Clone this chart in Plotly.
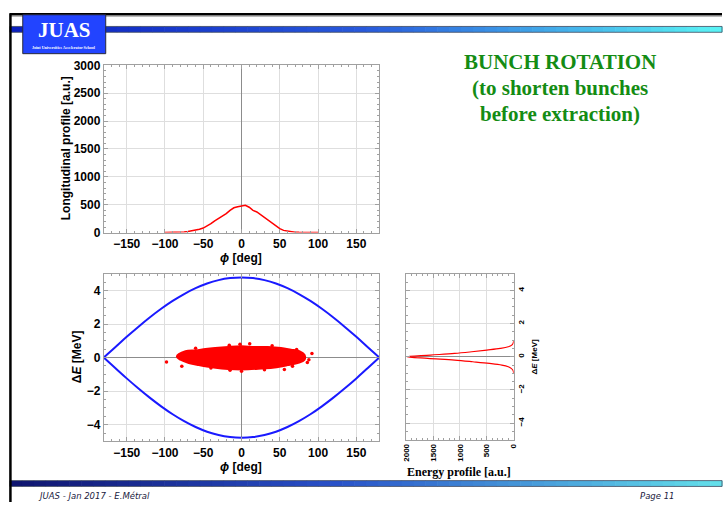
import plotly.graph_objects as go

W, H = 727, 509


def px(x):
    return x / W


def py(y):
    return 1 - y / H


# ---------------- data ----------------
long_phi = list(range(-100, 101, 5))
long_profile = [0, 1, 2, 3, 6, 12, 20, 30, 45, 62, 82, 115, 160, 210, 250, 285,
                340, 400, 445, 465, 480, 490, 455, 400, 370, 320, 270, 220, 160,
                110, 70, 40, 25, 14, 8, 5, 3, 2, 1, 0, 0]

sep_phi = [-180, -165, -150, -135, -120, -105, -90, -75, -60, -45, -30, -15, 0,
           15, 30, 45, 60, 75, 90, 105, 120, 135, 150, 165, 180]
sep_upper = [0.0, 0.62, 1.24, 1.83, 2.39, 2.91, 3.38, 3.79, 4.14, 4.42, 4.62, 4.74,
             4.78, 4.74, 4.62, 4.42, 4.14, 3.79, 3.38, 2.91, 2.39, 1.83, 1.24, 0.62, 0.0]
sep_lower = [0.0, -0.62, -1.24, -1.83, -2.39, -2.91, -3.38, -3.79, -4.14, -4.42, -4.62,
             -4.74, -4.78, -4.74, -4.62, -4.42, -4.14, -3.79, -3.38, -2.91, -2.39,
             -1.83, -1.24, -0.62, 0.0]

# outline of the dense particle cloud
blob_phi = [-83.8, -73, -60, -47, -34.4, -17.2, 0, 17.2, 34.4, 51.5, 64.4, 75.2, 81.6,
            81.6, 73, 60, 43, 25.8, 8.6, -8.6, -25.8, -43, -55.8, -68.7, -79.5]
blob_dE = [0.06, 0.35, 0.40, 0.48, 0.54, 0.60, 0.64, 0.60, 0.60, 0.54, 0.44, 0.35, 0.15,
           -0.13, -0.29, -0.42, -0.56, -0.62, -0.67, -0.67, -0.62, -0.52, -0.42, -0.29, -0.10]

# isolated particles outside the cloud
out_phi = [-98, 92, 88, 86, -78, 56, 66.6, -16, -2, 10.7, -15, 0, -60, 40, 72, -40, 30]
out_dE = [-0.27, 0.25, -0.13, -0.29, -0.52, -0.71, -0.52, 0.73, 0.79, 0.83, -0.75, -0.81,
          0.55, 0.70, 0.48, -0.62, -0.72]

energy_dE = [-1.0, -0.9, -0.8, -0.7, -0.6, -0.5, -0.4, -0.3, -0.2, -0.1, 0.0,
             0.1, 0.2, 0.3, 0.4, 0.5, 0.6, 0.7, 0.8, 0.9, 1.0]
energy_profile = [0, 3, 15, 45, 100, 220, 450, 760, 1100, 1600, 1990,
                  1550, 1100, 780, 500, 250, 100, 35, 10, 2, 0]

phi_ticks = [-150, -100, -50, 0, 50, 100, 150]
long_ticks = [0, 500, 1000, 1500, 2000, 2500, 3000]
dE_ticks = [-4, -2, 0, 2, 4]
energy_ticks = [0, 500, 1000, 1500, 2000]

title_lines = ["BUNCH ROTATION", "(to shorten bunches", "before extraction)"]

# ---------------- figure ----------------
fig = go.Figure()

fig.add_trace(go.Scatter(x=long_phi, y=long_profile, mode="lines",
                         line=dict(color="#ff0000", width=1.5),
                         xaxis="x", yaxis="y", showlegend=False))

fig.add_trace(go.Scatter(x=sep_phi, y=sep_upper, mode="lines",
                         line=dict(color="#1a1aff", width=2, shape="spline"),
                         xaxis="x2", yaxis="y2", showlegend=False))
fig.add_trace(go.Scatter(x=sep_phi, y=sep_lower, mode="lines",
                         line=dict(color="#1a1aff", width=2, shape="spline"),
                         xaxis="x2", yaxis="y2", showlegend=False))
fig.add_trace(go.Scatter(x=blob_phi + [blob_phi[0]], y=blob_dE + [blob_dE[0]],
                         mode="lines", fill="toself", fillcolor="#ff0000",
                         line=dict(color="#ff0000", width=3, shape="spline"),
                         xaxis="x2", yaxis="y2", showlegend=False))
fig.add_trace(go.Scatter(x=out_phi, y=out_dE, mode="markers",
                         marker=dict(color="#ff0000", size=3.5),
                         xaxis="x2", yaxis="y2", showlegend=False))

fig.add_trace(go.Scatter(x=energy_profile, y=energy_dE, mode="lines",
                         line=dict(color="#ff0000", width=1.2, shape="spline"),
                         xaxis="x3", yaxis="y3", showlegend=False))

FRAME = "#a0a0a0"


def ax(size=12, minor_dtick=None, **kw):
    d = dict(showline=True, linecolor=FRAME, linewidth=1, mirror="ticks",
             ticks="inside", ticklen=4, tickcolor=FRAME, tickwidth=1,
             showgrid=True, gridcolor="#dedede", gridwidth=1,
             zeroline=True, zerolinecolor="#8c8c8c", zerolinewidth=1,
             tickfont=dict(family="Liberation Sans", size=size, color="black",
                           weight="bold"),
             fixedrange=True)
    if minor_dtick is not None:
        d["minor"] = dict(ticks="inside", ticklen=2, tickcolor=FRAME,
                          dtick=minor_dtick, showgrid=False)
    d.update(kw)
    return d


main_x = [px(101), px(380)]

fig.update_layout(
    width=W, height=H,
    margin=dict(l=0, r=0, t=0, b=0),
    paper_bgcolor="white", plot_bgcolor="white",
    xaxis=ax(domain=main_x, range=[-180, 180], tickvals=phi_ticks, anchor="y",
             minor_dtick=10),
    yaxis=ax(domain=[py(232), py(60)], range=[0, 3000], tickvals=long_ticks,
             anchor="x", minor_dtick=100),
    xaxis2=ax(domain=main_x, range=[-180, 180], tickvals=phi_ticks, anchor="y2",
              minor_dtick=10),
    yaxis2=ax(domain=[py(446.7), py(274.3)], range=[-5, 5], tickvals=dE_ticks,
              anchor="x2", minor_dtick=0.5),
    xaxis3=ax(size=8, domain=[px(407.3), px(516)], range=[2000, 0],
              tickvals=energy_ticks, tickangle=-90, anchor="y3", minor_dtick=100),
    yaxis3=ax(size=8, domain=[py(445), py(274.3)], range=[-5, 5], tickvals=dE_ticks,
              side="right", tickangle=-90, anchor="x3", minor_dtick=0.5),
)

# ---------------- slide decoration ----------------
shapes = []


def lerp(c1, c2, t):
    return tuple(int(round(a + (b - a) * t)) for a, b in zip(c1, c2))


def gradient_bar(x0, x1, y0, y1, stops, n=60):
    out = []
    step = (x1 - x0) / n
    for i in range(n):
        t = (i + 0.5) / n
        for k in range(len(stops) - 1):
            if stops[k][0] <= t <= stops[k + 1][0]:
                tt = (t - stops[k][0]) / (stops[k + 1][0] - stops[k][0])
                c = lerp(stops[k][1], stops[k + 1][1], tt)
                break
        out.append(dict(type="rect", xref="paper", yref="paper",
                        x0=px(x0 + i * step), x1=px(x0 + (i + 1) * step + 0.6),
                        y0=py(y1), y1=py(y0), fillcolor="rgb(%d,%d,%d)" % c,
                        line=dict(width=0), layer="above"))
    out.append(dict(type="rect", xref="paper", yref="paper", x0=px(x0), x1=px(x1),
                    y0=py(y1), y1=py(y0), line=dict(color="#404a60", width=0.8),
                    fillcolor="rgba(0,0,0,0)", layer="above"))
    return out


shapes += gradient_bar(6, 727, 20, 26, [(0.0, (10, 30, 190)), (0.5, (40, 90, 220)),
                                        (1.0, (90, 245, 245))])
shapes += gradient_bar(6, 727, 487, 493, [(0.0, (15, 20, 110)), (0.45, (40, 80, 200)),
                                          (1.0, (100, 225, 235))])

shapes.append(dict(type="line", xref="paper", yref="paper", x0=px(6), x1=px(727),
                   y0=py(7.5), y1=py(7.5), line=dict(color="black", width=2.5),
                   layer="above"))
shapes.append(dict(type="line", xref="paper", yref="paper", x0=px(6), x1=px(727),
                   y0=py(9.8), y1=py(9.8), line=dict(color="#b8b8b8", width=1),
                   layer="above"))
shapes.append(dict(type="line", xref="paper", yref="paper", x0=px(6.5), x1=px(6.5),
                   y0=py(6.5), y1=py(509), line=dict(color="black", width=2.5),
                   layer="above"))
shapes.append(dict(type="rect", xref="paper", yref="paper", x0=px(19), x1=px(103),
                   y0=py(48), y1=py(8), fillcolor="#2244ff",
                   line=dict(color="#2a2a3a", width=1), layer="above"))

fig.update_layout(shapes=shapes)

ann = []


def text(x, y, s, size, color="black", family="Liberation Sans", bold=False,
         xanchor="center", angle=0):
    ann.append(dict(xref="paper", yref="paper", x=px(x), y=py(y), text=s,
                    showarrow=False, xanchor=xanchor, yanchor="middle",
                    textangle=angle,
                    font=dict(family=family, size=size, color=color,
                              weight="bold" if bold else "normal")))


text(61, 24, "JUAS", 21, color="white", family="Liberation Serif", bold=True)
text(61, 41.5, "Joint Universities Accelerator School", 4, color="white",
     family="Liberation Serif", bold=True)

for line_txt, yy in zip(title_lines, [57, 83, 110]):
    text(563, yy, line_txt, 21, color="#148c14", family="Liberation Serif", bold=True)

text(63, 145, "Longitudinal profile [a.u.]", 12, bold=True, angle=-90)
text(240, 258, "<i>ϕ</i> [deg]", 12, bold=True)
text(74, 360, "Δ<i>E</i> [MeV]", 12, bold=True, angle=-90)
text(240, 473, "<i>ϕ</i> [deg]", 12, bold=True)
text(537, 360, "Δ<i>E</i> [MeV]", 8, bold=True, angle=-90)
text(461, 478, "Energy profile [a.u.]", 12, family="Liberation Serif", bold=True)

text(32, 502.5, "<i>JUAS - Jan 2017 - E.Métral</i>", 8.5, color="#1a1a40",
     family="DejaVu Sans", xanchor="left")
text(680, 502.5, "<i>Page 11</i>", 8.5, color="#1a1a40", family="DejaVu Sans",
     xanchor="right")

fig.update_layout(annotations=ann)

fig.write_html("out.html")
